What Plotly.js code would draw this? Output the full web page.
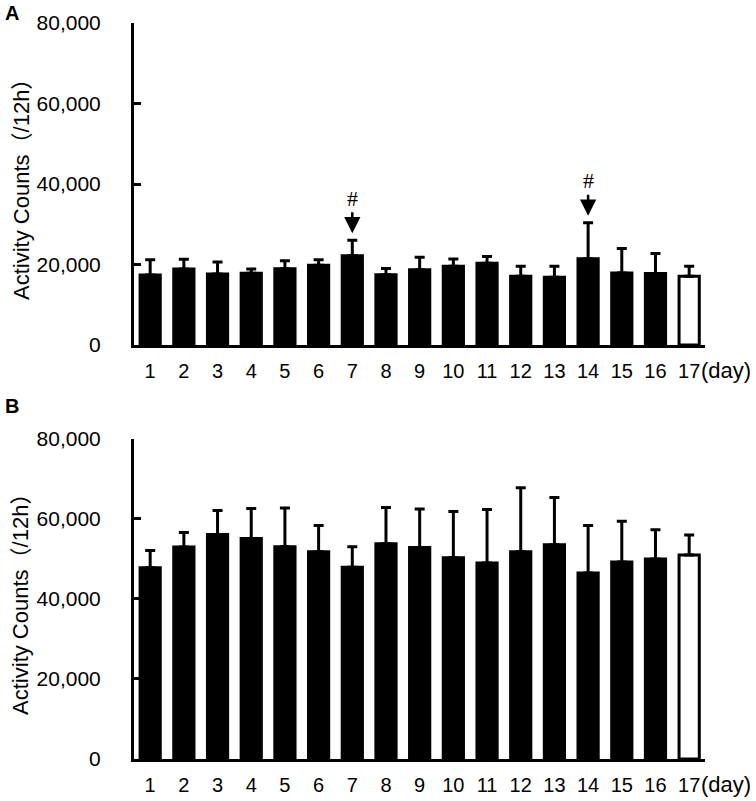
<!DOCTYPE html>
<html>
<head>
<meta charset="utf-8">
<script src="https://cdn.plot.ly/plotly-3.0.1.min.js"></script>
<style>html,body{margin:0;padding:0;background:#fff;}#chart{width:756px;height:801px;}</style>
</head>
<body>
<div id="chart"></div>
<script>
// ---- data ----
const days = [1,2,3,4,5,6,7,8,9,10,11,12,13,14,15,16,17];
const tickLabels = ["1","2","3","4","5","6","7","8","9","10","11","12","13","14","15","16","17"];
const meanA = [17400,18900,17650,17800,18950,19800,22200,17480,18720,19550,20290,17050,16850,21450,17900,17750,17050];
const sdA   = [3800,2400,3000,1100,2000,1400,3800,1500,3100,1800,1700,2500,2700,8900,6100,5000,2500];
const meanB = [47800,53000,56100,55100,53050,51800,47950,53800,52900,50300,49000,51800,53550,46500,49250,50000,51000];
const sdB   = [4300,3600,6000,7500,9700,6600,5100,9100,9600,11600,13400,16000,11800,11900,10200,7300,5000];
const markedDaysA = [7,14];
const yTicks = [0,20000,40000,60000,80000];
const yTickText = ["0","20,000","40,000","60,000","80,000"];
const yTitle = "Activity Counts（/12h）";

// ---- styling ----
const fam = "Liberation Sans, Arial, Noto Sans CJK JP, sans-serif";
const fillColors = days.map((d,i) => i === days.length-1 ? "#ffffff" : "#000000");
const zeros = days.map(() => 0);

function barTrace(mean, sd, xa, ya){
  return {
    type: "bar", x: days, y: mean, xaxis: xa, yaxis: ya,
    width: 0.6,
    marker: {color: fillColors, line: {color: "#000", width: 3}},
    error_y: {type: "data", symmetric: false, array: sd, arrayminus: zeros,
              color: "#000", thickness: 3, width: 5},
    showlegend: false, hoverinfo: "skip"
  };
}

const xCommon = {
  range: [0.52, 17.47], tickmode: "array", tickvals: days, ticktext: tickLabels,
  showline: true, linecolor: "#000", linewidth: 3, ticks: "", showgrid: false, zeroline: false,
  tickfont: {family: fam, size: 20, color: "#000"}, ticklabelstandoff: 6, fixedrange: true
};
const yCommon = {
  range: [0, 80000], tickmode: "array", tickvals: yTicks, ticktext: yTickText,
  showline: true, linecolor: "#000", linewidth: 3, ticks: "inside", ticklen: 7, tickwidth: 3, tickcolor: "#000",
  showgrid: false, zeroline: false, ticklabelstandoff: 26,
  tickfont: {family: fam, size: 21, color: "#000"}, fixedrange: true
};

const layout = {
  width: 756, height: 801,
  margin: {l: 134, r: 51, t: 23, b: 42},
  paper_bgcolor: "#fff", plot_bgcolor: "#fff",
  bargap: 0,
  xaxis: Object.assign({}, xCommon, {anchor: "y", domain: [0,1]}),
  yaxis: Object.assign({}, yCommon, {anchor: "x", domain: [0.5625, 1]}),
  xaxis2: Object.assign({}, xCommon, {anchor: "y2", domain: [0,1]}),
  yaxis2: Object.assign({}, yCommon, {anchor: "x2", domain: [0, 0.4348]}),
  annotations: [],
  showlegend: false
};

// panel letters
layout.annotations.push({text: "<b>A</b>", xref: "paper", yref: "paper", x: -0.214, y: 1.0, xanchor: "center", yanchor: "middle",
  yshift: 10, showarrow: false, font: {family: fam, size: 20, color: "#000"}});
layout.annotations.push({text: "<b>B</b>", xref: "paper", yref: "paper", x: -0.214, y: 0.4348, xanchor: "center", yanchor: "middle",
  yshift: 33, showarrow: false, font: {family: fam, size: 20, color: "#000"}});

// y titles
layout.annotations.push({text: yTitle, xref: "paper", yref: "y domain", x: -0.198, y: 0.5, xanchor: "center", yanchor: "middle",
  textangle: -90, showarrow: false, font: {family: fam, size: 22, color: "#000"}});
layout.annotations.push({text: yTitle, xref: "paper", yref: "y2 domain", x: -0.198, y: 0.5, xanchor: "center", yanchor: "middle",
  textangle: -90, showarrow: false, font: {family: fam, size: 22, color: "#000"}});

// (day) labels
["x","x2"].forEach((xa, k) => {
  layout.annotations.push({text: "(day)", xref: xa, yref: (k===0?"y domain":"y2 domain"), x: 17.3, y: 0, xanchor: "left", yanchor: "top",
    yshift: -11, showarrow: false, font: {family: fam, size: 22, color: "#000"}});
});

// # markers with arrows
markedDaysA.forEach(d => {
  const i = days.indexOf(d);
  layout.annotations.push({text: "#", xref: "x", yref: "y", x: d, y: meanA[i] + sdA[i],
    showarrow: true, arrowhead: 2, arrowsize: 1.3, arrowwidth: 2.5, arrowcolor: "#000",
    ax: 0, ay: -42, standoff: 7, font: {family: "Liberation Serif, serif", size: 22, color: "#000"}});
});

Plotly.newPlot("chart", [barTrace(meanA, sdA, "x", "y"), barTrace(meanB, sdB, "x2", "y2")], layout, {displayModeBar: false, staticPlot: true});
</script>
</body>
</html>
